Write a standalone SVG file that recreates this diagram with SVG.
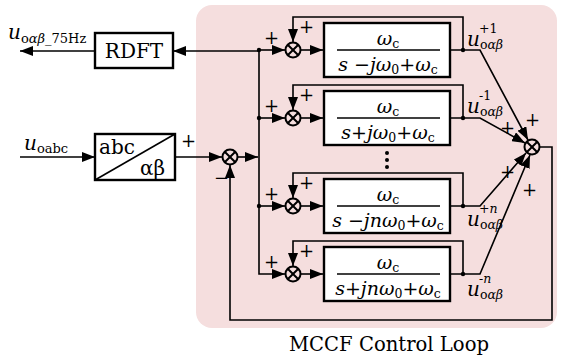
<svg xmlns="http://www.w3.org/2000/svg" width="562" height="358" viewBox="0 0 562 358">
<style>
.ln{fill:none;stroke:#000;stroke-width:1.6}
.bx{fill:#fff;stroke:#000;stroke-width:2.4}
.sm{fill:none;stroke:#000;stroke-width:2}
.i{font-style:italic}
.sub{font-size:12.5px}
.pl{font-size:18px}
.big{font-size:20px}
.fr{font-size:19px}
</style>
<defs>
<marker id="ar" markerUnits="userSpaceOnUse" markerWidth="14" markerHeight="10" refX="13" refY="5" orient="auto">
<path d="M0,0 L13,5 L0,10 Z" fill="#000"/>
</marker>
<g id="sumg"><circle r="7.5" class="sm"/><path d="M-5.3,-5.3L5.3,5.3M-5.3,5.3L5.3,-5.3" class="sm" stroke-width="1.6"/></g>
</defs>
<rect x="196" y="5" width="361" height="323" rx="16" fill="#f5dede"/>

<g id="connectors">
<path class="ln" d="M259,51 L173,51" marker-end="url(#ar)"/>
<path class="ln" d="M95,51 L20,51" marker-end="url(#ar)"/>
<path class="ln" d="M20,157 L95,157" marker-end="url(#ar)"/>
<path class="ln" d="M175,157 L222,157" marker-end="url(#ar)"/>
<path class="ln" d="M238,157 L258,157" marker-end="url(#ar)"/>
<path class="ln" d="M259,50 L259,274 L285,274" marker-end="url(#ar)"/>
<path class="ln" d="M259,50 L285,50" marker-end="url(#ar)"/>
<path class="ln" d="M259,118 L285,118" marker-end="url(#ar)"/>
<path class="ln" d="M259,206 L285,206" marker-end="url(#ar)"/>
<path class="ln" d="M301,50 L323,50" marker-end="url(#ar)"/>
<path class="ln" d="M301,118 L323,118" marker-end="url(#ar)"/>
<path class="ln" d="M301,206 L323,206" marker-end="url(#ar)"/>
<path class="ln" d="M301,274 L323,274" marker-end="url(#ar)"/>
<path class="ln" d="M463,50 L463,17 L293,17 L293,42" marker-end="url(#ar)"/>
<path class="ln" d="M463,118 L463,85 L293,85 L293,110" marker-end="url(#ar)"/>
<path class="ln" d="M463,206 L463,173 L293,173 L293,198" marker-end="url(#ar)"/>
<path class="ln" d="M463,274 L463,241 L293,241 L293,266" marker-end="url(#ar)"/>
<path class="ln" d="M450,50 L480,50 L528,140" marker-end="url(#ar)"/>
<path class="ln" d="M450,118 L480,118 L525,143" marker-end="url(#ar)"/>
<path class="ln" d="M450,206 L480,206 L526,153" marker-end="url(#ar)"/>
<path class="ln" d="M450,274 L480,274 L530,155" marker-end="url(#ar)"/>
<path class="ln" d="M539.5,147 L552,147 L552,320 L230,320 L230,165" marker-end="url(#ar)"/>
<g fill="#000">
<circle cx="259" cy="50" r="2.2"/><circle cx="259" cy="118" r="2.2"/><circle cx="259" cy="206" r="2.2"/>
<circle cx="463" cy="50" r="2.2"/><circle cx="463" cy="118" r="2.2"/><circle cx="463" cy="206" r="2.2"/><circle cx="463" cy="274" r="2.2"/>
<circle cx="387" cy="153" r="2"/><circle cx="387" cy="160" r="2"/><circle cx="387" cy="167" r="2"/>
</g>
</g>

<g fill="#000" font-family="DejaVu Serif, serif">
<text x="389" y="351" font-size="19.6" text-anchor="middle">MCCF Control Loop</text>
<g id="rdft"><rect x="95" y="33" width="78" height="35" class="bx"/><text x="134" y="58" class="big" text-anchor="middle">RDFT</text></g>
<g id="abc2ab"><rect x="95" y="134" width="80" height="46" class="bx"/><path d="M95,180 L175,134" class="ln" stroke-width="1.8"/>
<text x="99" y="154" class="big">abc</text><text x="140" y="175" class="big">αβ</text></g>

<g id="sum1"><use href="#sumg" x="230" y="157"/></g>
<g id="sum_b1"><use href="#sumg" x="293" y="50"/></g>
<g id="sum_b2"><use href="#sumg" x="293" y="118"/></g>
<g id="sum_b3"><use href="#sumg" x="293" y="206"/></g>
<g id="sum_b4"><use href="#sumg" x="293" y="274"/></g>
<g id="sum_out"><use href="#sumg" x="532" y="147"/></g>

<g id="box1"><rect x="324" y="23" width="126" height="54" class="bx"/><path d="M337,50H440" class="ln"/>
<text x="388" y="45" class="fr" text-anchor="middle"><tspan class="i">ω</tspan><tspan class="sub" dy="3">c</tspan></text>
<text x="388" y="71" class="fr" text-anchor="middle"><tspan class="i">s</tspan> −<tspan class="i">jω</tspan><tspan class="sub" dy="3">0</tspan><tspan dy="-3">+</tspan><tspan class="i">ω</tspan><tspan class="sub" dy="3">c</tspan></text></g>
<g id="box2"><rect x="324" y="91" width="126" height="54" class="bx"/><path d="M337,118H440" class="ln"/>
<text x="388" y="113" class="fr" text-anchor="middle"><tspan class="i">ω</tspan><tspan class="sub" dy="3">c</tspan></text>
<text x="388" y="139" class="fr" text-anchor="middle"><tspan class="i">s</tspan>+<tspan class="i">jω</tspan><tspan class="sub" dy="3">0</tspan><tspan dy="-3">+</tspan><tspan class="i">ω</tspan><tspan class="sub" dy="3">c</tspan></text></g>
<g id="box3"><rect x="324" y="179" width="126" height="54" class="bx"/><path d="M337,206H440" class="ln"/>
<text x="388" y="201" class="fr" text-anchor="middle"><tspan class="i">ω</tspan><tspan class="sub" dy="3">c</tspan></text>
<text x="388" y="227" class="fr" text-anchor="middle"><tspan class="i">s</tspan> −<tspan class="i">jnω</tspan><tspan class="sub" dy="3">0</tspan><tspan dy="-3">+</tspan><tspan class="i">ω</tspan><tspan class="sub" dy="3">c</tspan></text></g>
<g id="box4"><rect x="324" y="247" width="126" height="54" class="bx"/><path d="M337,274H440" class="ln"/>
<text x="388" y="269" class="fr" text-anchor="middle"><tspan class="i">ω</tspan><tspan class="sub" dy="3">c</tspan></text>
<text x="388" y="295" class="fr" text-anchor="middle"><tspan class="i">s</tspan>+<tspan class="i">jnω</tspan><tspan class="sub" dy="3">0</tspan><tspan dy="-3">+</tspan><tspan class="i">ω</tspan><tspan class="sub" dy="3">c</tspan></text></g>

<g id="labels">
<text x="8" y="39" class="big"><tspan class="i">u</tspan><tspan font-size="13" dy="4">o<tspan class="i">αβ</tspan>_75Hz</tspan></text>
<text x="24" y="150" class="big"><tspan class="i">u</tspan><tspan font-size="13" dy="3">oabc</tspan></text>
<text x="467" y="46" class="big"><tspan class="i">u</tspan><tspan class="sub" dy="3">o<tspan class="i">αβ</tspan></tspan></text><text x="479" y="33" class="sub">+1</text>
<text x="467" y="113" class="big"><tspan class="i">u</tspan><tspan class="sub" dy="3">o<tspan class="i">αβ</tspan></tspan></text><text x="479" y="100" class="sub">-1</text>
<text x="467" y="226" class="big"><tspan class="i">u</tspan><tspan class="sub" dy="3">o<tspan class="i">αβ</tspan></tspan></text><text x="479" y="213" class="sub">+<tspan class="i">n</tspan></text>
<text x="467" y="296" class="big"><tspan class="i">u</tspan><tspan class="sub" dy="3">o<tspan class="i">αβ</tspan></tspan></text><text x="479" y="283" class="sub">-<tspan class="i">n</tspan></text>
<text x="181" y="147" class="pl">+</text>
<text x="214" y="184" class="pl">−</text>
<text x="264" y="44" class="pl">+</text><text x="299" y="33" class="pl">+</text>
<text x="264" y="112" class="pl">+</text><text x="299" y="101" class="pl">+</text>
<text x="264" y="200" class="pl">+</text><text x="299" y="189" class="pl">+</text>
<text x="264" y="268" class="pl">+</text><text x="299" y="257" class="pl">+</text>
<text x="525" y="126" class="pl">+</text>
<text x="500" y="134" class="pl">+</text>
<text x="500" y="178" class="pl">+</text>
<text x="522" y="196" class="pl">+</text>
</g>
</g>
</svg>
